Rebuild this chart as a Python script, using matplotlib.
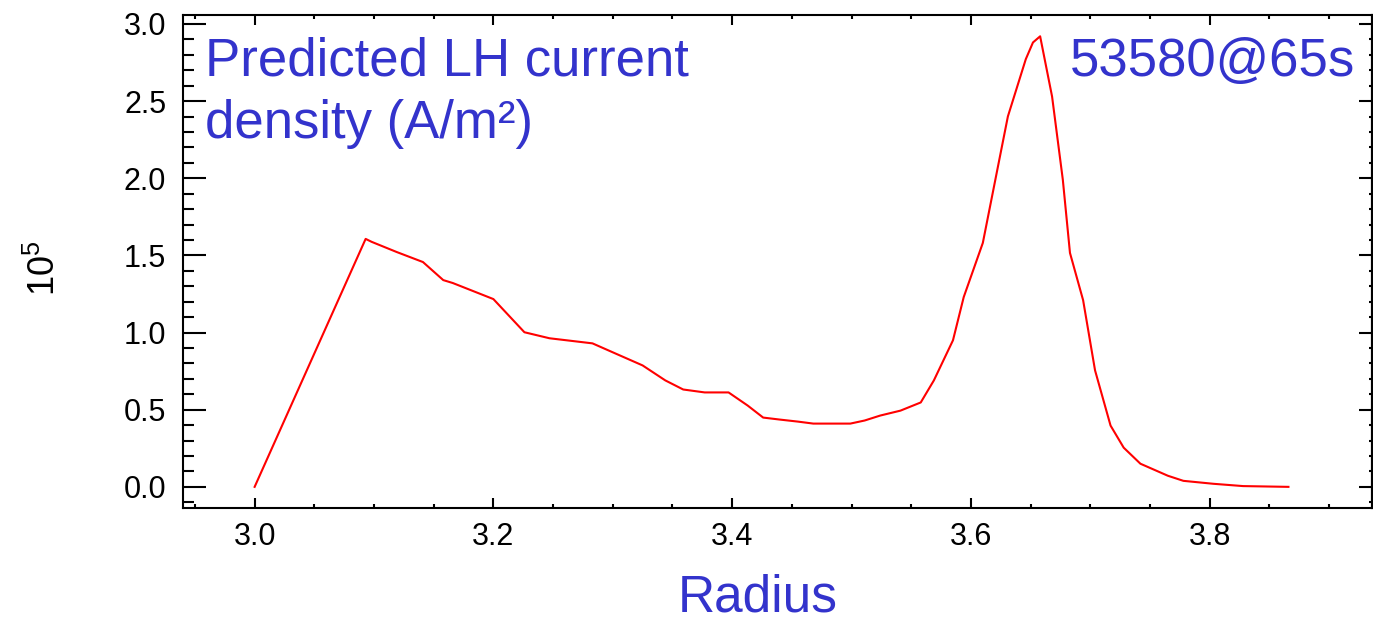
import matplotlib.pyplot as plt
from matplotlib.ticker import MultipleLocator

plt.rcParams['font.family'] = ['Liberation Sans', 'DejaVu Sans']
plt.rcParams['mathtext.fontset'] = 'custom'
plt.rcParams['mathtext.rm'] = 'Liberation Sans'

# LH driven current density profile, units of 1e5 A/m^2
radius = [3.000, 3.093, 3.098, 3.119, 3.141, 3.158, 3.166, 3.200, 3.226, 3.247,
          3.283, 3.300, 3.325, 3.344, 3.359, 3.377, 3.397, 3.413, 3.426, 3.440,
          3.455, 3.468, 3.499, 3.511, 3.524, 3.541, 3.558, 3.569, 3.585, 3.594,
          3.610, 3.625, 3.631, 3.646, 3.652, 3.658, 3.668, 3.677, 3.683, 3.694,
          3.704, 3.717, 3.728, 3.742, 3.765, 3.778, 3.803, 3.828, 3.866]
j_lh = [0.000, 1.607, 1.588, 1.522, 1.457, 1.340, 1.321, 1.217, 1.002, 0.963,
        0.930, 0.872, 0.787, 0.690, 0.631, 0.612, 0.612, 0.527, 0.449, 0.436,
        0.423, 0.410, 0.410, 0.430, 0.462, 0.494, 0.547, 0.690, 0.950, 1.230,
        1.581, 2.167, 2.401, 2.772, 2.880, 2.920, 2.530, 1.991, 1.516, 1.210,
        0.755, 0.397, 0.254, 0.150, 0.072, 0.039, 0.020, 0.005, 0.000]

W, H = 1373, 623
blue = '#3333cc'

fig = plt.figure(figsize=(W / 100, H / 100), dpi=100)
ax = fig.add_axes([183 / W, 1 - 508 / H, (1372 - 183) / W, (508 - 15) / H])

ax.plot(radius, j_lh, color='red', lw=1.5)

ax.set_xlim(2.94, 3.936)
ax.set_ylim(-0.137, 3.058)

ax.xaxis.set_major_locator(MultipleLocator(0.2))
ax.xaxis.set_minor_locator(MultipleLocator(0.05))
ax.yaxis.set_major_locator(MultipleLocator(0.5))
ax.yaxis.set_minor_locator(MultipleLocator(0.1))
ax.xaxis.set_major_formatter(lambda v, p: f'{v:.1f}')
ax.yaxis.set_major_formatter(lambda v, p: f'{v:.1f}')

for s in ax.spines.values():
    s.set_linewidth(1.5)

ax.tick_params(axis='x', which='both', direction='in', top=True, width=1.5,
               labelsize=22, pad=10)
ax.tick_params(axis='x', which='major', length=7.5)
ax.tick_params(axis='x', which='minor', length=3)
ax.tick_params(axis='y', which='both', direction='in', width=1.5,
               labelsize=22, pad=12)
ax.tick_params(axis='y', which='major', length=16.5)
ax.tick_params(axis='y', which='minor', length=8)

# shorter ticks on the right side
right = ax.secondary_yaxis('right')
right.yaxis.set_major_locator(MultipleLocator(0.5))
right.yaxis.set_minor_locator(MultipleLocator(0.1))
right.tick_params(which='both', direction='in', width=1.5, labelright=False)
right.tick_params(which='major', length=9.5)
right.tick_params(which='minor', length=2)
right.spines['right'].set_linewidth(1.5)

fig.text(45 / W, 1 - 268 / H, r'$\mathregular{10^5}$', rotation=90,
         ha='center', va='center', fontsize=26)

fig.text(205 / W, 1 - 76 / H, 'Predicted LH current', color=blue,
         fontsize=38, ha='left', va='baseline')
fig.text(205 / W, 1 - 138 / H, 'density (A/m\u00b2)', color=blue,
         fontsize=38, ha='left', va='baseline')
fig.text(1355 / W, 1 - 76 / H, '53580@65s', color=blue,
         fontsize=38, ha='right', va='baseline')
fig.text(758 / W, 1 - 612 / H, 'Radius', color=blue,
         fontsize=37, ha='center', va='baseline')

fig.savefig('out.png', dpi=100)
